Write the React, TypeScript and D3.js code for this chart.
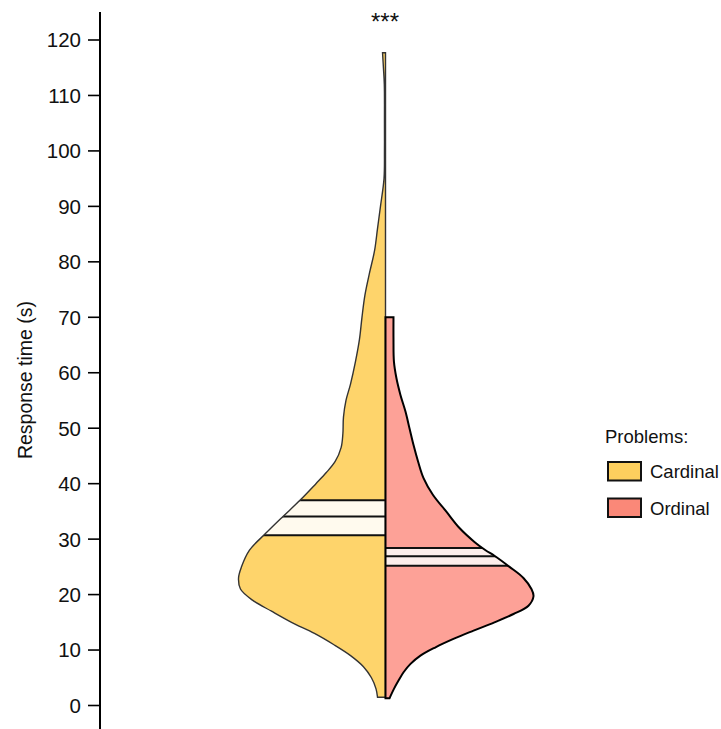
import React from "react";
import * as d3 from "d3";

// Response time (s) sample points and relative density (0..1) for each group
const cardinalTime = [117.7, 115, 112, 105, 100, 95, 90, 86, 82, 78, 74, 70, 66, 62, 58, 55, 52, 49, 46.5, 44, 42, 40, 37, 34, 31, 28, 25, 23, 21, 19, 17, 15, 13, 11, 9, 7, 5, 3, 1.5];
const cardinalDensity = [0.02, 0.014, 0.008, 0.007, 0.007, 0.01, 0.034, 0.054, 0.074, 0.108, 0.139, 0.159, 0.176, 0.203, 0.236, 0.267, 0.284, 0.288, 0.3, 0.34, 0.4, 0.47, 0.578, 0.696, 0.811, 0.919, 0.973, 0.993, 0.98, 0.899, 0.77, 0.635, 0.48, 0.351, 0.236, 0.149, 0.095, 0.064, 0.054];

const ordinalTime = [70, 66, 62, 59, 56, 53, 50, 47, 44, 41, 38, 35, 32, 29.5, 28, 27, 25, 23, 21, 19.7, 18, 16.5, 15, 13.5, 12, 10.5, 9, 7.5, 6, 4.5, 3, 1.3];
const ordinalDensity = [0.054, 0.054, 0.057, 0.074, 0.101, 0.135, 0.162, 0.189, 0.22, 0.257, 0.32, 0.41, 0.5, 0.601, 0.676, 0.736, 0.838, 0.932, 0.986, 1.0, 0.966, 0.865, 0.736, 0.595, 0.459, 0.338, 0.236, 0.169, 0.122, 0.088, 0.057, 0.027];

// Quartiles [Q1, median, Q3]
const cardinalQuartiles = [30.7, 34.1, 37.0];
const ordinalQuartiles = [25.2, 26.9, 28.4];

const tickValues = [0, 10, 20, 30, 40, 50, 60, 70, 80, 90, 100, 110, 120];
const groups = ["Cardinal", "Ordinal"];
const yLabel = "Response time (s)";
const legendTitle = "Problems:";
const significance = "***";

const W = 721;
const H = 729;
const FONT = "'Liberation Sans', Arial, sans-serif";

export default function App() {
  const y = d3.scaleLinear().domain([0, 120]).range([705.5, 40]);
  const w = d3.scaleLinear().domain([0, 1]).range([0, 148]);
  const cx = 385.5;

  const card = cardinalTime.map((t, i) => ({ t, d: cardinalDensity[i] }));
  const ord = ordinalTime.map((t, i) => ({ t, d: ordinalDensity[i] }));

  const leftArea = d3
    .area<{ t: number; d: number }>()
    .y((p) => y(p.t))
    .x0(cx)
    .x1((p) => cx - w(p.d))
    .curve(d3.curveCatmullRom.alpha(0.5));
  const rightArea = d3
    .area<{ t: number; d: number }>()
    .y((p) => y(p.t))
    .x0(cx)
    .x1((p) => cx + w(p.d))
    .curve(d3.curveCatmullRom.alpha(0.5));

  const leftPath = leftArea(card) || "";
  const rightPath = rightArea(ord) || "";

  const cardFill = "#FED46B";
  const ordFill = "#FDA197";

  return (
    <svg
      width={W}
      height={H}
      style={{ position: "absolute", left: 0, top: 0, background: "#fff" }}
      fontFamily={FONT}
    >
      <defs>
        <clipPath id="clipL">
          <path d={leftPath} />
        </clipPath>
        <clipPath id="clipR">
          <path d={rightPath} />
        </clipPath>
      </defs>

      {/* axis */}
      <line x1={100} x2={100} y1={12} y2={H} stroke="#000" strokeWidth={2} />
      {tickValues.map((v) => (
        <g key={v}>
          <line x1={88} x2={100} y1={y(v)} y2={y(v)} stroke="#000" strokeWidth={1.6} />
          <text x={81} y={y(v)} dy="0.36em" textAnchor="end" fontSize={20.5} fill="#111">
            {v}
          </text>
        </g>
      ))}
      <text
        transform={`translate(32,380) rotate(-90)`}
        textAnchor="middle"
        fontSize={19.5}
        fill="#111"
      >
        {yLabel}
      </text>

      {/* cardinal half */}
      <path d={leftPath} fill={cardFill} />
      <g clipPath="url(#clipL)">
        <rect
          x={cx - 200}
          width={200}
          y={y(cardinalQuartiles[2])}
          height={y(cardinalQuartiles[0]) - y(cardinalQuartiles[2])}
          fill="#FFFAEE"
        />
        {cardinalQuartiles.map((q, i) => (
          <line key={i} x1={cx - 200} x2={cx} y1={y(q)} y2={y(q)} stroke="#111" strokeWidth={2} />
        ))}
      </g>
      <path d={leftPath} fill="none" stroke="#333" strokeWidth={1.4} />

      {/* ordinal half */}
      <path d={rightPath} fill={ordFill} />
      <g clipPath="url(#clipR)">
        <rect
          x={cx}
          width={200}
          y={y(ordinalQuartiles[2])}
          height={y(ordinalQuartiles[0]) - y(ordinalQuartiles[2])}
          fill="#FDEEEB"
        />
        {ordinalQuartiles.map((q, i) => (
          <line key={i} x1={cx} x2={cx + 200} y1={y(q)} y2={y(q)} stroke="#111" strokeWidth={2} />
        ))}
      </g>
      <path d={rightPath} fill="none" stroke="#000" strokeWidth={2} />

      {/* significance */}
      <text x={385} y={30} textAnchor="middle" fontSize={24} fill="#111">
        {significance}
      </text>

      {/* legend */}
      <text x={605} y={443} fontSize={18.5} fill="#111">
        {legendTitle}
      </text>
      {groups.map((g, i) => (
        <g key={g} transform={`translate(608,${462 + i * 36.5})`}>
          <rect width={33} height={18.5} fill={i === 0 ? "#FDCF5E" : "#FA8878"} stroke="#111" strokeWidth={2} />
          <text x={42} y={16} fontSize={18.5} fill="#111">
            {g}
          </text>
        </g>
      ))}
    </svg>
  );
}
